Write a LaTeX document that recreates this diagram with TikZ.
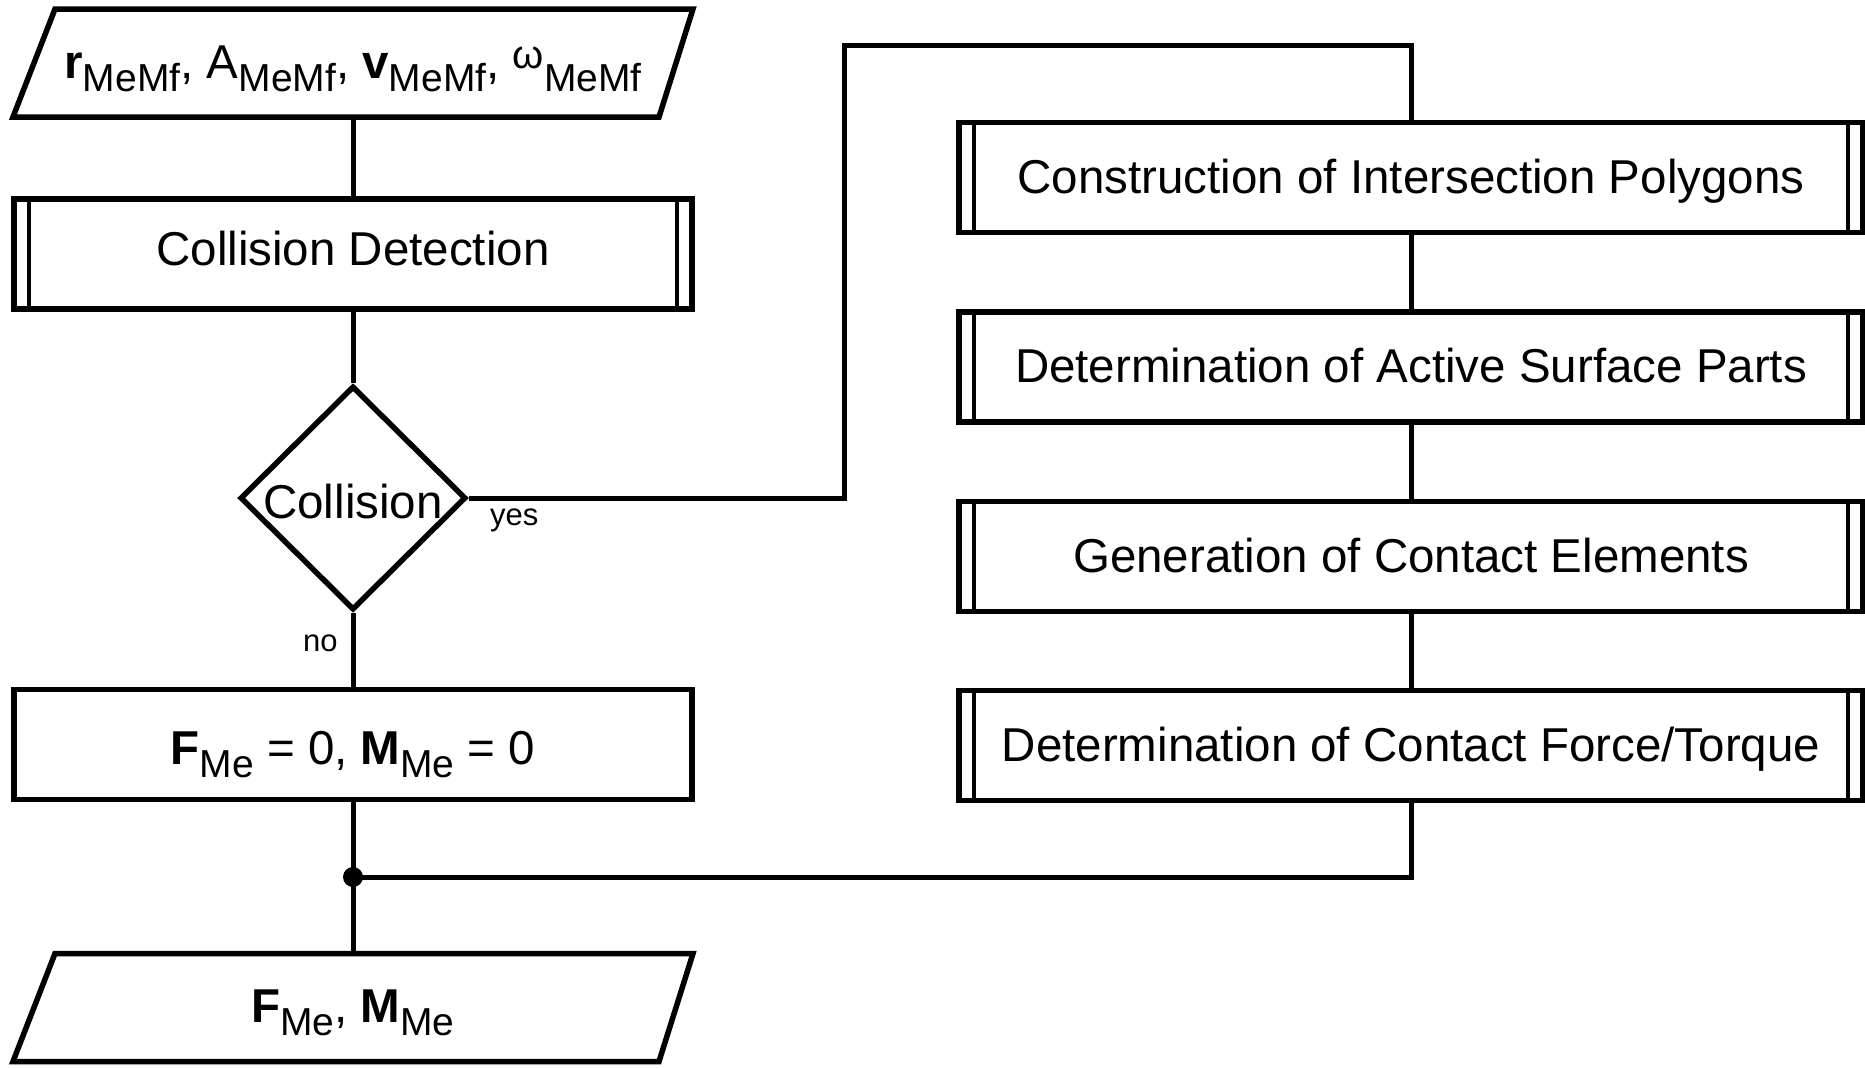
\documentclass[tikz,border=0pt]{standalone}
\usepackage{fontspec}
\setmainfont{Liberation Sans}
\usetikzlibrary{shapes.geometric,calc}
\newcommand{\sbs}[1]{\raisebox{-13pt}{\fontsize{39}{40}\selectfont #1}}
\newcommand{\omg}{\raisebox{10pt}{\fontsize{40}{40}\selectfont ω}}
\tikzset{
  txt/.style={font=\fontsize{47.5}{57}\selectfont, inner sep=0pt, outer sep=0pt, text height=34pt, text depth=8pt},
  boxline/.style={line width=5.5pt, line join=miter},
  plain/.style={txt, rectangle, draw, boxline, minimum height=110pt},
  procbox/.style={plain},
  iobox/.style={txt, rectangle, draw=none, minimum height=108pt, minimum width=680pt},
  decision/.style={diamond, draw, boxline, inner sep=0pt, minimum width=226pt, minimum height=224pt, aspect=1},
  conn/.style={line width=5pt, line cap=butt},
  bar/.style={line width=3.8pt},
  lbl/.style={font=\fontsize{31}{36}\selectfont, inner sep=0pt, anchor=base west}
}
\begin{document}
\begin{tikzpicture}[x=1pt,y=-1pt]
\useasboundingbox (0,0) rectangle (1865,1068);
% left column
\node[iobox, text height=38pt] (in) at (353,63) {\textbf{r}\sbs{MeMf}, A\sbs{MeMf}, \textbf{v}\sbs{MeMf}, \omg\sbs{MeMf}};
\draw[boxline] ($(in.north west)+(42,0)$) -- (in.north east) -- ($(in.south east)+(-34,0)$) -- (in.south west) -- cycle;
\node[procbox, minimum width=678pt, text height=30pt] (cd) at (353,254) {Collision Detection};
\node[decision] (col) at (353,498) {};
\node[txt, anchor=base, text height=, text depth=] (coltxt) at ($(col.center)+(0,20)$) {Collision};
\node[plain, minimum width=678pt, text height=48pt] (f0) at (353,744.5) {\textbf{F}\sbs{Me} = 0, \textbf{M}\sbs{Me} = 0};
\node[iobox, text height=38pt] (out) at (353,1007.5) {\textbf{F}\sbs{Me}, \textbf{M}\sbs{Me}};
\draw[boxline] ($(out.north west)+(42,0)$) -- (out.north east) -- ($(out.south east)+(-34,0)$) -- (out.south west) -- cycle;
% right column
\node[procbox, minimum width=904pt, text height=39pt] (p1) at (1411,177.5) {Construction of Intersection Polygons};
\node[procbox, minimum width=904pt, text height=39pt] (p2) at (1411,367) {Determination of Active Surface Parts};
\node[procbox, minimum width=904pt, text height=39pt] (p3) at (1411,556.5) {Generation of Contact Elements};
\node[procbox, minimum width=904pt, text height=39pt] (p4) at (1411,745.5) {Determination of Contact Force/Torque};
\foreach \n in {cd,p1,p2,p3,p4} {
  \draw[bar] ([xshift=15pt]\n.north west) -- ([xshift=15pt]\n.south west);
  \draw[bar] ([xshift=-15pt]\n.north east) -- ([xshift=-15pt]\n.south east);
}
% connectors
\coordinate (yx) at (844,45);
\coordinate (j) at (353,877);
\draw[conn] (in.south) -- (cd.north);
\draw[conn] (cd.south) -- (col.north);
\draw[conn] (col.south) -- (f0.north);
\draw[conn] (f0.south) -- (out.north);
\draw[conn, line join=miter] (col.east) -- (col.east -| yx) -- (yx) -- (yx -| p1.north) -- (p1.north);
\draw[conn] (p1.south) -- (p2.north);
\draw[conn] (p2.south) -- (p3.north);
\draw[conn] (p3.south) -- (p4.north);
\draw[conn, line join=miter] (p4.south) |- (j);
\fill (j) circle (10);
% labels
\node[lbl] (yes) at (490,525) {yes};
\node[lbl] (no) at (303,651) {no};
\end{tikzpicture}
\end{document}
